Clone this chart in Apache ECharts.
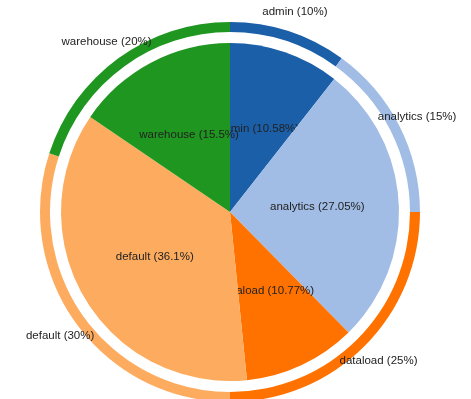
<!DOCTYPE html>
<html>
<head>
<meta charset="utf-8">
<script src="https://cdn.jsdelivr.net/npm/echarts@6/dist/echarts.min.js"></script>
<style>
  html, body { margin: 0; padding: 0; background: #fff; }
  #chart { width: 471px; height: 399px; }
</style>
</head>
<body>
<div id="chart"></div>
<script>
const names = ["admin", "analytics", "dataload", "default", "warehouse"]
const innerValues = [10.58, 27.05, 10.77, 36.1, 15.5]
const outerValues = [10, 15, 25, 30, 20]
const colors = ["#1b5fa8", "#a1bde5", "#ff7200", "#fdac5f", "#1f961f"]

const center = [230, 212]
const clear = "rgba(0,0,0,0)"
const labelFont = {
  fontFamily: "Liberation Sans, Arial, sans-serif",
  fontSize: 11.5,
  color: "#222",
}

// inner pie: one series per slice so each label sits under the later slices
const innerSeries = names.map((n, i) => ({
  type: "pie",
  radius: [0, 169],
  center: center,
  z: 2 + i,
  silent: true,
  avoidLabelOverlap: false,
  labelLayout: { hideOverlap: false },
  label: { show: false },
  labelLine: { show: false },
  data: names.map((m, j) => ({
    name: m,
    value: innerValues[j],
    itemStyle: { color: j === i ? colors[j] : clear },
    label: j === i
      ? { show: true, position: "inside", formatter: m + " (" + innerValues[j] + "%)", ...labelFont }
      : { show: false },
  })),
}))

const ring = {
  type: "pie",
  radius: [180, 190],
  center: center,
  z: 10,
  silent: true,
  label: { show: false },
  labelLine: { show: false },
  data: names.map((m, j) => ({
    name: m,
    value: outerValues[j],
    itemStyle: { color: colors[j] },
  })),
}

// transparent band used only to centre the outer labels on a circle
const ringLabels = {
  type: "pie",
  radius: [198, 216],
  center: center,
  z: 11,
  silent: true,
  avoidLabelOverlap: false,
  labelLayout: { hideOverlap: false },
  labelLine: { show: false },
  label: {
    show: true,
    position: "inside",
    formatter: (p) => p.name + " (" + p.value + "%)",
    ...labelFont,
  },
  data: names.map((m, j) => ({
    name: m,
    value: outerValues[j],
    itemStyle: { color: clear },
  })),
}

const chart = echarts.init(document.getElementById("chart"))
chart.setOption({
  animation: false,
  series: [...innerSeries, ring, ringLabels],
})
</script>
</body>
</html>
